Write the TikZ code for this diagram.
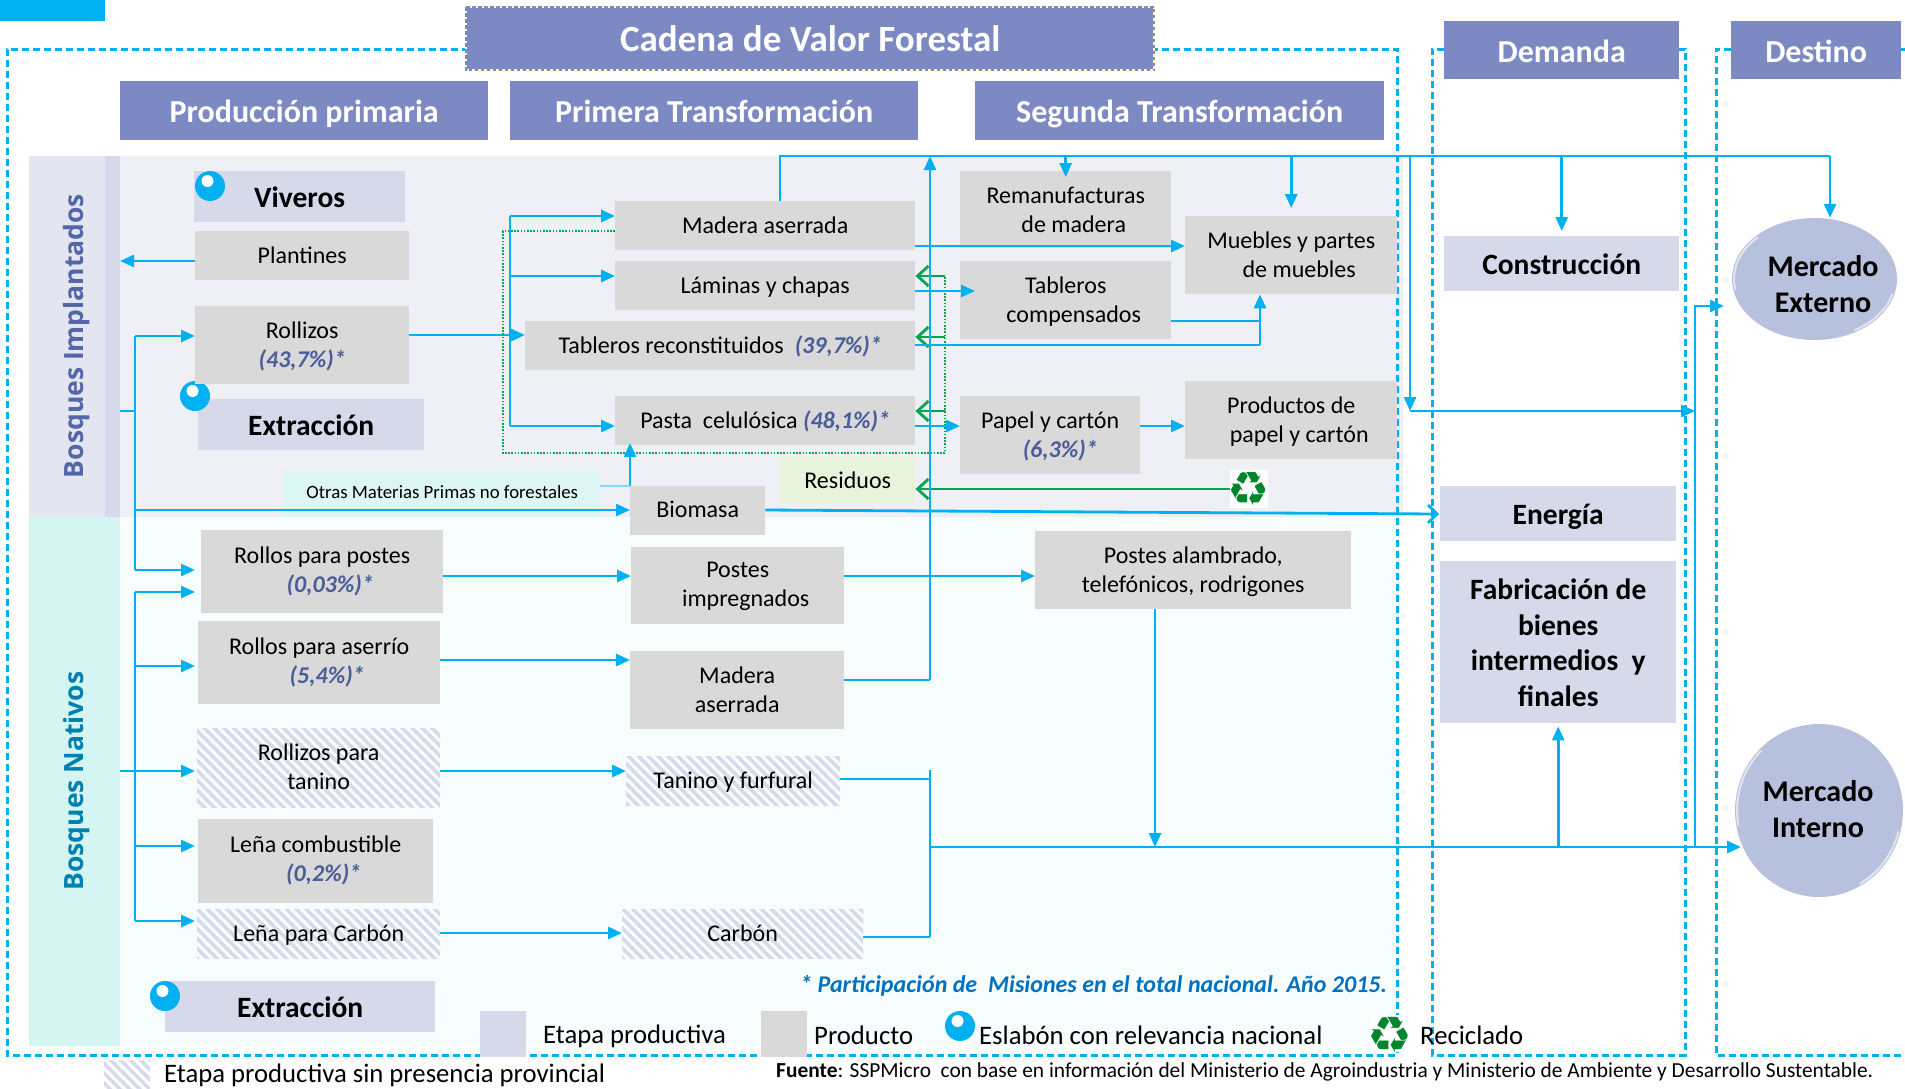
\documentclass[tikz,border=0pt]{standalone}
\usepackage{fontspec}
\setmainfont{Carlito}
\newfontfamily\djfont{DejaVu Sans}
\newfontfamily\opfont{Open Sans}
\usetikzlibrary{arrows.meta,patterns.meta,shapes.geometric}
\definecolor{cyanb}{HTML}{00B0F0}
\definecolor{headb}{HTML}{7C89C3}
\definecolor{stageb}{HTML}{D5D9EA}
\definecolor{prodg}{HTML}{D9D9D9}
\definecolor{bgi}{HTML}{EEF0F6}
\definecolor{bgn}{HTML}{F7FDFD}
\definecolor{stripi}{HTML}{E3E6F1}
\definecolor{stripn}{HTML}{D5F5F3}
\definecolor{otrasb}{HTML}{DCF5F5}
\definecolor{resb}{HTML}{E8F3DC}
\definecolor{greena}{HTML}{00A651}
\definecolor{greenr}{HTML}{00852F}
\definecolor{pct}{HTML}{4A5E9A}
\definecolor{bosi}{HTML}{5466A6}
\definecolor{bosn}{HTML}{0080B0}
\definecolor{notec}{HTML}{0070C0}
\definecolor{mercb}{HTML}{B7C0DC}
\definecolor{ttlb}{HTML}{FFFFB4}
\newcommand\fs[2]{\fontsize{#1}{#2}\selectfont}
\newcommand\pc[1]{{\bfseries\itshape\color{pct}#1}}
\newcommand\bxd{0pt}
\newcommand\bxa{\rule[-.3\baselineskip]{0pt}{\dimexpr\baselineskip+2\dimexpr\bxd\relax\relax}}
\newcommand\bx[7][prodbox]{%
  \pgfmathsetmacro\bxw{#5-(#3)}\pgfmathsetmacro\bxh{#6-(#4)}%
  \node[#1,anchor=north west,minimum width=\bxw pt,minimum height=\bxh pt] (#2) at (#3,#4) {\bxa #7\strut};}
\newcommand\hb[6]{%
  \fill[hatchfill] (#2,#3) rectangle (#4,#5);
  \bx[hatchbox]{#1}{#2}{#3}{#4}{#5}{#6}}
\newcommand\bul[3]{%
  \fill[cyanb] (#2,#3) circle[radius=15];
  \fill[white] (#2-2.5,#3-5) circle[radius=6];}
\newcommand\shine[4]{%
  \draw[white,opacity=.6,line width=2pt,line cap=round] (#1,#2) +(-190:#3-2 and #4-2) arc[start angle=-190,end angle=-135,x radius=#3-2,y radius=#4-2];
  \draw[white,opacity=.6,line width=2pt,line cap=round] (#1,#2) +(15:#3-2 and #4-2) arc[start angle=15,end angle=60,x radius=#3-2,y radius=#4-2];}
\tikzset{
  drop/.style={execute at begin node={\renewcommand\bxd{#1}}},
  prodbox/.style={fill=prodg,inner sep=0pt,align=center,font=\fs{24}{29},drop=2.4pt},
  hatchfill/.style={pattern={Lines[angle=-45,distance=7pt,line width=3.5pt]},pattern color=stageb},
  hatchbox/.style={inner sep=0pt,align=center,font=\fs{24}{29},drop=2.4pt},
  stagebox/.style={fill=stageb,inner sep=0pt,align=center,font=\fs{29.5}{35.5}\bfseries,drop=3.6pt},
  headbox/.style={fill=headb,inner sep=0pt,align=center,text=white,font=\fs{32}{36}\bfseries,drop=4.8pt},
  frame/.style={draw=cyanb,line width=3pt,dash pattern=on 7pt off 4pt},
  link/.style={draw=cyanb,line width=2.8pt},
  flow/.style={draw=cyanb,line width=2.8pt,-{Triangle[length=14pt,width=12pt]}},
  chev/.style={draw=cyanb,line width=2.8pt,-{Straight Barb[length=9pt,width=18pt,line width=2.8pt]}},
  back/.style={draw=greena,line width=2.8pt,-{Straight Barb[length=11pt,width=20pt,line width=2.8pt]}},
  dotg/.style={draw=greena,line width=1.6pt,dash pattern=on 1.6pt off 1.6pt},
  market/.style={ellipse,fill=mercb,inner sep=0pt},
  marklab/.style={inner sep=0pt,align=center,font=\fs{30}{36}\bfseries},
  recy/.style={inner sep=0pt,text=greenr,font=\djfont\fs{47}{47}},
  plain/.style={inner sep=0pt,anchor=west}
}
\begin{document}
\begin{tikzpicture}[x=1pt,y=-1pt]
\useasboundingbox (0,0) rectangle (1905,1088);
% backgrounds
\fill[cyanb] (0,0) rectangle (105,21);
\fill[bgi] (120,156) rectangle (1403,517);
\fill[bgn] (120,517) rectangle (1397,1046);
\fill[stripi] (29,156) rectangle (105,517);
\fill[stageb] (105,156) rectangle (120,517);
\fill[stripn] (29,517) rectangle (120,1046);
\node[rotate=90,text=bosi,font=\opfont\fs{26.5}{26}\bfseries,inner sep=0pt] (lbi) at (77,336) {Bosques Implantados};
\node[rotate=90,text=bosn,font=\opfont\fs{26.5}{26}\bfseries,inner sep=0pt] (lbn) at (77,781) {Bosques Nativos};
% dashed frames
\draw[frame] (480,49) -- (7,49) -- (7,1055) -- (1397,1055) -- (1397,49) -- (1150,49);
\draw[frame] (1444,49) -- (1432,49) -- (1432,1055) -- (1685,1055) -- (1685,49) -- (1679,49);
\draw[frame] (1731,49) -- (1716,49) -- (1716,1055) -- (1905,1055);
\draw[frame] (1901,49) -- (1905,49);
% headers
\bx[headbox,font=\fs{37}{40}\bfseries]{title}{466}{7}{1154}{70}{Cadena de Valor Forestal}
\draw[draw=ttlb,line width=2pt] (title.north west) rectangle (title.south east);
\draw[draw=headb,line width=2pt,dash pattern=on 3.5pt off 2.5pt] (title.north west) rectangle (title.south east);
\bx[headbox]{hprim}{120}{81}{488}{140}{Producción primaria}
\bx[headbox]{hsec}{510}{81}{918}{140}{Primera Transformación}
\bx[headbox]{hseg}{975}{81}{1384}{140}{Segunda Transformación}
\bx[headbox]{hdem}{1444}{21}{1679}{79}{Demanda}
\bx[headbox]{hdes}{1731}{21}{1901}{79}{Destino}
% stages, implantados
\bx[stagebox]{viveros}{194}{171}{405}{222}{Viveros}
\bul{bv}{210}{186}
\bx[stagebox]{extri}{198}{399}{424}{450}{Extracción}
\bul{be}{195}{396}
\bx{plantines}{195}{231}{409}{280}{Plantines}
\bx{rollizos}{195}{306}{409}{384}{Rollizos\\\pc{(43,7\%)*}}
\bx[prodbox,fill=otrasb,font=\fs{18.8}{22},drop=0pt]{otras}{284}{470}{600}{517}{Otras Materias Primas no forestales}
\bx[prodbox,drop=1.2pt]{biomasa}{630}{486}{765}{535}{Biomasa}
\bx{madera}{615}{201}{915}{250}{Madera aserrada}
\bx{laminas}{615}{261}{915}{310}{Láminas y chapas}
\bx{trec}{525}{321}{915}{370}{Tableros reconstituidos\ \ \pc{(39,7\%)*}}
\bx{pasta}{615}{396}{915}{445}{Pasta\ \ celulósica \pc{(48,1\%)*}}
\bx{reman}{960}{171}{1171}{248}{Remanufacturas\\\hspace*{16pt}de madera}
\bx{tcomp}{960}{261}{1171}{339}{Tableros\\\hspace*{16pt}compensados}
\bx{muebles}{1185}{216}{1397}{294}{Muebles y partes\\\hspace*{16pt}de muebles}
\bx{papel}{960}{396}{1140}{474}{Papel y cartón\\\hspace*{20pt}\pc{(6,3\%)*}}
\bx{prodpap}{1185}{381}{1397}{459}{Productos de\\\hspace*{16pt}papel y cartón}
\bx[prodbox,fill=resb]{residuos}{780}{457}{915}{504}{Residuos}
\fill[white] (1230,470) rectangle (1268,508);
\node[recy] (recyc) at (1249,489) {♻};
% natives
\bx[prodbox,drop=0pt]{rpostes}{201}{530}{443}{613}{Rollos para postes\\\hspace*{16pt}\pc{(0,03\%)*}}
\bx[prodbox,drop=0pt]{raserrio}{198}{621}{440}{704}{Rollos para aserrío\\\hspace*{16pt}\pc{(5,4\%)*}}
\fill[hatchfill] (197,728) rectangle (440,807);
\bx[hatchbox,drop=1.2pt]{rtanino}{197}{728}{440}{807}{Rollizos para\\tanino}
\bx[prodbox,drop=0pt]{lcomb}{198}{819}{433}{903}{Leña combustible\\\hspace*{16pt}\pc{(0,2\%)*}}
\hb{lcarbon}{197}{909}{440}{958}{Leña para Carbón}
\bx[prodbox,drop=0.6pt]{postesimp}{631}{547}{844}{624}{Postes\\\hspace*{16pt}impregnados}
\bx{maderan}{630}{651}{844}{729}{Madera\\aserrada}
\hb{tanino}{626}{756}{840}{805}{Tanino y furfural}
\hb{carbon}{622}{909}{863}{958}{Carbón}
\bx{alambrado}{1035}{531}{1351}{609}{Postes alambrado,\\telefónicos, rodrigones}
\bx[stagebox]{extrn}{165}{981}{435}{1032}{Extracción}
\bul{bn}{165}{996}
% demand and destination
\bx[stagebox]{constr}{1444}{236}{1679}{291}{Construcción}
\bx[stagebox]{energia}{1440}{486}{1676}{541}{Energía}
\bx[stagebox]{fab}{1440}{561}{1676}{723}{Fabricación de\\bienes\\intermedios\ \ y\\finales}
\node[market,minimum width=165pt,minimum height=122pt] (mext) at (1814.5,279) {};
\node[marklab] (mextt) at (1823,284) {Mercado\\Externo};
\node[market,minimum width=168pt,minimum height=173pt] (mint) at (1819,810.5) {};
\node[marklab] (mintt) at (1818,809) {Mercado\\Interno};
\shine{1814.5}{279}{82.5}{61}
\shine{1819}{810.5}{84}{86.5}
% left buses
\coordinate (bandA) at (120,261);
\draw[flow] (plantines.west |- bandA) -- (bandA);
\coordinate (busJ) at (120,411);
\coordinate (busA) at (135,336);
\coordinate (busB) at (135,570);
\coordinate (busC) at (135,592);
\coordinate (busD) at (135,921);
\draw[link] (busJ) -- (busA |- busJ);
\draw[link] (busA) -- (busB);
\draw[link] (busC) -- (busD);
\draw[flow] (busA) -- (rollizos.west |- busA);
\draw[flow] (busA |- 0,510) -- (biomasa.west |- 0,510);
\draw[flow] (busB) -- (195,570);
\draw[flow] (busC) -- (195,592);
\draw[flow] (busC |- 0,666) -- (195,666);
\draw[flow] (120,771) -- (195,771);
\draw[flow] (busC |- 0,846) -- (195,846);
\draw[flow] (busD) -- (195,921);
% first transformation feed
\coordinate (feedT) at (510,216);
\coordinate (feedB) at (510,426);
\draw[link] (feedT) -- (feedB);
\draw[flow] (feedT) -- (madera.west |- feedT);
\draw[flow] (feedT |- 0,276) -- (laminas.west |- 0,276);
\draw[flow] (feedB) -- (pasta.west |- feedB);
\draw[flow] (rollizos.east |- 0,335) -- (trec.west |- 0,335);
% recycling loop
\draw[dotg] (madera.west |- 0,231) -- (503,231) -- (503,453) -- (945,453) -- (945,276);
\draw[back] (945,276) -- (laminas.east |- 0,276);
\draw[back] (945,337) -- (trec.east |- 0,337);
\draw[back] (945,411) -- (pasta.east |- 0,411);
\draw[back] (1230,489) -- (residuos.east |- 0,489);
% biomass
\draw[flow] (biomasa.north -| 630,0) -- (630,443);
\draw[draw=cyanb!50!white,line width=2pt] (otras.east |- 0,486) -- (630,486);
\draw[chev] (biomasa.east |- 0,510) -- (1439,514);
% second transformation
\draw[flow] (madera.east |- 0,246) -- (muebles.west |- 0,246);
\draw[flow] (laminas.east |- 0,291) -- (975,291);
\coordinate (mup) at (1260,345);
\draw[link] (trec.east |- mup) -- (mup);
\draw[link] (tcomp.east |- 0,321) -- (mup |- 0,321);
\draw[flow] (mup) -- (mup |- muebles.south);
\draw[flow] (pasta.east |- 0,426) -- (papel.west |- 0,426);
\draw[flow] (papel.east |- 0,426) -- (prodpap.west |- 0,426);
% top distribution
\coordinate (topA) at (780,156);
\coordinate (topB) at (1830,156);
\coordinate (spine) at (930,680);
\coordinate (dropA) at (1410,156);
\coordinate (dropB) at (1410,411);
\coordinate (upA) at (1695,847);
\draw[link] (topA |- madera.north) -- (topA) -- (topB);
\draw[flow] (topB) -- (topB |- mext.north);
\draw[flow] (reman.north |- topA) -- (reman.north |- 0,177);
\draw[flow] (muebles.north |- topA) -- (muebles.north |- 0,208);
\draw[flow] (constr.north |- topA) -- (constr.north |- 0,231);
\draw[link] (maderan.east |- spine) -- (spine);
\draw[flow] (spine) -- (spine |- topA);
\draw[flow] (dropA) -- (dropB);
\draw[flow] (dropB) -- (upA |- dropB);
\draw[flow] (upA) -- (upA |- 0,306) -- (1724,306);
% native flows
\draw[flow] (rpostes.east |- 0,576) -- (postesimp.west |- 0,576);
\draw[flow] (postesimp.east |- 0,576) -- (alambrado.west |- 0,576);
\draw[flow] (raserrio.east |- 0,660) -- (maderan.west |- 0,660);
\draw[flow] (rtanino.east |- 0,771) -- (tanino.west |- 0,771);
\draw[flow] (lcarbon.east |- 0,933) -- (carbon.west |- 0,933);
\coordinate (joinC) at (930,847);
\draw[link] (joinC |- 0,770) -- (joinC |- 0,937);
\draw[link] (tanino.east |- 0,779) -- (joinC |- 0,779);
\draw[link] (carbon.east |- 0,937) -- (joinC |- 0,937);
\draw[flow] (joinC) -- (1741,847);
\coordinate (alamb) at (1155,847);
\draw[flow] (alamb |- alambrado.south) -- (alamb);
\draw[flow] (fab.south |- joinC) -- ([yshift=-3pt]fab.south);
% notes and legend
\node[plain,font=\fs{24}{26}\bfseries\itshape,text=notec] (note) at (800,986) {* Participación de\ \ Misiones en el total nacional. Año 2015.};
\fill[stageb] (480,1011) rectangle (526,1057);
\node[plain,font=\fs{26.7}{28}] (lg1) at (543,1036) {Etapa productiva};
\fill[prodg] (761,1011) rectangle (807,1057);
\node[plain,font=\fs{26.7}{28}] (lg2) at (814,1035) {Producto};
\bul{bl}{960}{1026}
\node[plain,font=\fs{26.7}{28}] (lg3) at (979,1035) {Eslabón con relevancia nacional};
\fill[white] (1370,1015) rectangle (1412,1052);
\node[recy,font=\djfont\fs{50}{50}] (lgr) at (1390,1035) {♻};
\node[plain,font=\fs{26.7}{28}] (lg4) at (1420,1035) {Reciclado};
\fill[hatchfill] (104,1060) rectangle (150,1088);
\node[plain,font=\fs{26.7}{28}] (lg5) at (164,1075) {Etapa productiva sin presencia provincial};
\node[plain,font=\fs{21.4}{24}] (fuente) at (776,1072) {\textbf{Fuente}: SSPMicro\ \ con base en información del Ministerio de Agroindustria y Ministerio de Ambiente y Desarrollo Sustentable.};
\end{tikzpicture}
\end{document}
